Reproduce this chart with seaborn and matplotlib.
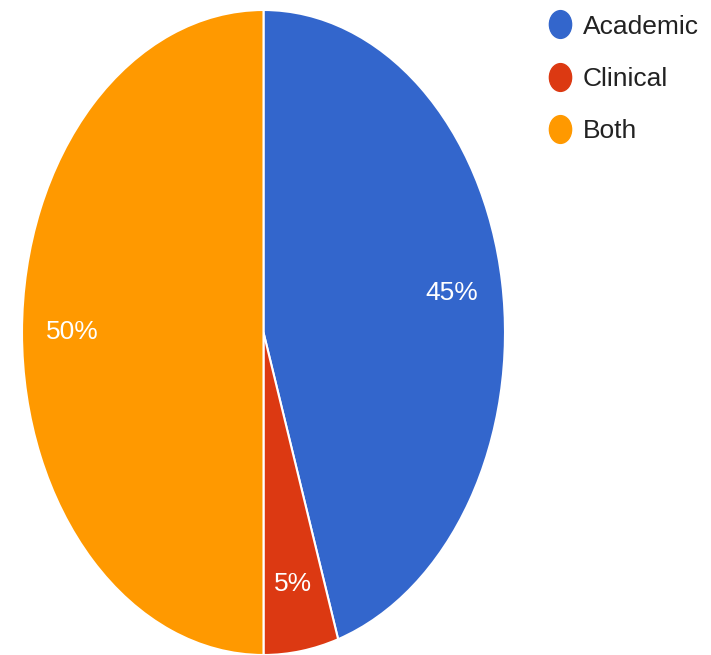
import matplotlib
matplotlib.use("Agg")
import matplotlib.pyplot as plt
import seaborn as sns
from matplotlib.lines import Line2D
from matplotlib.path import Path
from matplotlib.transforms import Affine2D

categories = ["Academic", "Clinical", "Both"]
values = [45, 5, 50]
colors = ["#3366CC", "#DC3912", "#FF9900"]

sns.set_theme(style="white")
plt.rcParams['font.family'] = ['Liberation Sans', 'DejaVu Sans']

fig = plt.figure(figsize=(7.11, 6.55), dpi=100)
ax = fig.add_axes([22/711, 0/655, 483/711, 645/655])

wedges, texts, autotexts = ax.pie(
    values, colors=colors, startangle=90, counterclock=False,
    autopct=lambda p: f"{p:.0f}%", pctdistance=0.79,
    wedgeprops=dict(edgecolor="white", linewidth=1.5),
    textprops=dict(color="white", fontsize=19),
)
ax.set_aspect('auto')
ax.set_xlim(-1.0, 1.0)
ax.set_ylim(-1.0, 1.0)
ax.axis('off')

ellipse = Path.unit_circle().transformed(Affine2D().scale(0.8, 1.0))
handles = [Line2D([0], [0], marker=ellipse, linestyle='none', markersize=20,
                  markerfacecolor=c, markeredgecolor=c) for c in colors]
leg = fig.legend(handles, categories, loc='upper left',
                 bbox_to_anchor=(534/711, 1 - 4/655), frameon=False,
                 fontsize=19, labelcolor="#222222", handletextpad=0.26,
                 labelspacing=1.07, handlelength=1.2, borderaxespad=0)

fig.savefig("out.png", dpi=100)
